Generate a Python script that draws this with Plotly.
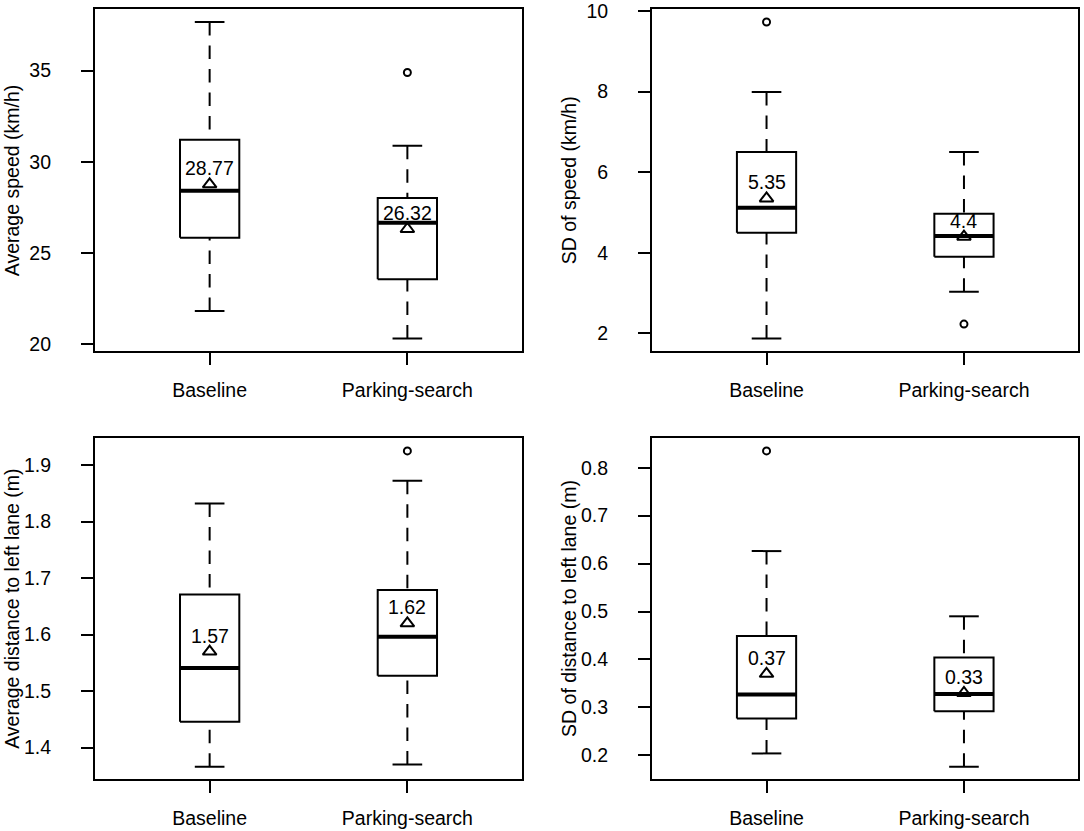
#=====================================================================
# 2x2 boxplots : Baseline vs Parking-search
#=====================================================================
import plotly.graph_objects as go
from plotly.subplots import make_subplots

groups = ["Baseline", "Parking-search"]

#-------------------------------------------------
# Average speed (km/h)
speed_lower = [21.83, 20.31]
speed_q1 = [25.84, 23.57]
speed_median = [28.42, 26.66]
speed_q3 = [31.21, 28.02]
speed_upper = [37.67, 30.88]
speed_mean = [28.77, 26.32]
speed_outliers = [[], [34.9]]

# SD of speed (km/h)
sdspeed_lower = [1.87, 3.03]
sdspeed_q1 = [4.50, 3.90]
sdspeed_median = [5.12, 4.42]
sdspeed_q3 = [6.50, 4.97]
sdspeed_upper = [7.99, 6.50]
sdspeed_mean = [5.35, 4.4]
sdspeed_outliers = [[9.73], [2.23]]

# Average distance to left lane (m)
dist_lower = [1.366, 1.370]
dist_q1 = [1.446, 1.527]
dist_median = [1.541, 1.596]
dist_q3 = [1.671, 1.679]
dist_upper = [1.832, 1.872]
dist_mean = [1.57, 1.62]
dist_outliers = [[], [1.925]]

# SD of distance to left lane (m)
sddist_lower = [0.204, 0.176]
sddist_q1 = [0.277, 0.292]
sddist_median = [0.327, 0.328]
sddist_q3 = [0.449, 0.404]
sddist_upper = [0.626, 0.490]
sddist_mean = [0.37, 0.33]
sddist_outliers = [[0.835], []]

panels = [
    ("Average speed (km/h)", speed_lower, speed_q1, speed_median, speed_q3,
     speed_upper, speed_mean, speed_outliers, 5),
    ("SD of speed (km/h)", sdspeed_lower, sdspeed_q1, sdspeed_median, sdspeed_q3,
     sdspeed_upper, sdspeed_mean, sdspeed_outliers, 2),
    ("Average distance to left lane (m)", dist_lower, dist_q1, dist_median, dist_q3,
     dist_upper, dist_mean, dist_outliers, 0.1),
    ("SD of distance to left lane (m)", sddist_lower, sddist_q1, sddist_median, sddist_q3,
     sddist_upper, sddist_mean, sddist_outliers, 0.1),
]

FONT = "Arial, Liberation Sans, sans-serif"
FS = 19.5
hw = 0.15     # half box width
cw = 0.075    # half cap width

xdom = [[0.0876, 0.4816], [0.6015, 0.9949]]
ydom = [[0.5773, 0.9888], [0.0620, 0.4726]]

fig = make_subplots(rows=2, cols=2)

for k, (title, lo, q1, med, q3, up, mean, outl, dtick) in enumerate(panels):
    r, c = k // 2 + 1, k % 2 + 1
    line = dict(color="black", width=2)
    for i, g in enumerate(groups):
        x = i + 1
        # whiskers (drawn from whisker end towards the box, dashed)
        fig.add_trace(go.Scatter(x=[x, x, None, x, x], y=[up[i], q3[i], None, lo[i], q1[i]],
                                 mode="lines", line=dict(color="black", width=2, dash="13.5px,10px")),
                      row=r, col=c)
        # staples
        fig.add_trace(go.Scatter(x=[x - cw, x + cw, None, x - cw, x + cw],
                                 y=[up[i], up[i], None, lo[i], lo[i]],
                                 mode="lines", line=line), row=r, col=c)
        # box
        fig.add_trace(go.Scatter(x=[x - hw, x + hw, x + hw, x - hw, x - hw],
                                 y=[q1[i], q1[i], q3[i], q3[i], q1[i]],
                                 mode="lines", fill="toself", fillcolor="white", line=line),
                      row=r, col=c)
        # median
        fig.add_trace(go.Scatter(x=[x - hw, x + hw], y=[med[i], med[i]], mode="lines",
                                 line=dict(color="black", width=4)), row=r, col=c)
        # outliers
        if outl[i]:
            fig.add_trace(go.Scatter(x=[x] * len(outl[i]), y=outl[i], mode="markers",
                                     marker=dict(symbol="circle-open", size=7, color="black",
                                                 line=dict(width=2))), row=r, col=c)
        # mean
        fig.add_trace(go.Scatter(x=[x], y=[mean[i]], mode="markers",
                                 marker=dict(symbol="triangle-up-open", size=12, color="black",
                                             line=dict(width=2))), row=r, col=c)
        fig.add_annotation(x=x, y=mean[i], text=str(mean[i]), showarrow=False,
                           xref="x%d" % (k + 1) if k else "x", yref="y%d" % (k + 1) if k else "y",
                           yanchor="middle", yshift=16, font=dict(family=FONT, size=FS, color="black"))

    # y range: data range +4%, as in R
    vals = lo + up + [v for o in outl for v in o]
    pad = 0.04 * (max(vals) - min(vals))
    fig.update_yaxes(range=[min(vals) - pad, max(vals) + pad], domain=ydom[r - 1],
                     automargin=False,
                     tick0=0, dtick=dtick, ticks="outside", ticklen=12, tickwidth=2,
                     tickcolor="black", ticklabelstandoff=26, ticklabeloverflow="allow",
                     showline=True, mirror=True, linewidth=2, linecolor="black",
                     showgrid=False, zeroline=False,
                     tickfont=dict(family=FONT, size=FS, color="black"), row=r, col=c)
    fig.update_xaxes(range=[0.42, 2.58], domain=xdom[c - 1],
                     automargin=False,
                     tickvals=[1, 2], ticktext=groups, ticks="outside", ticklen=12, tickwidth=2,
                     tickcolor="black", ticklabelstandoff=8, ticklabeloverflow="allow",
                     showline=True, mirror=True, linewidth=2, linecolor="black",
                     showgrid=False, zeroline=False,
                     tickfont=dict(family=FONT, size=FS, color="black"), row=r, col=c)
    # y axis title
    fig.add_annotation(text=title, textangle=-90, showarrow=False,
                       xref="paper", yref="paper",
                       x=xdom[c - 1][0] - 83 / 1084, y=sum(ydom[r - 1]) / 2,
                       xanchor="center", yanchor="middle",
                       font=dict(family=FONT, size=FS, color="black"))

fig.update_layout(width=1084, height=831, margin=dict(l=0, r=0, t=0, b=0, autoexpand=False),
                  showlegend=False, plot_bgcolor="white", paper_bgcolor="white",
                  hovermode=False)

# page margin off so the 1084x831 figure fills the window
fig.write_html("out.html", config={"displayModeBar": False},
               post_script="document.body.style.margin='0';")
